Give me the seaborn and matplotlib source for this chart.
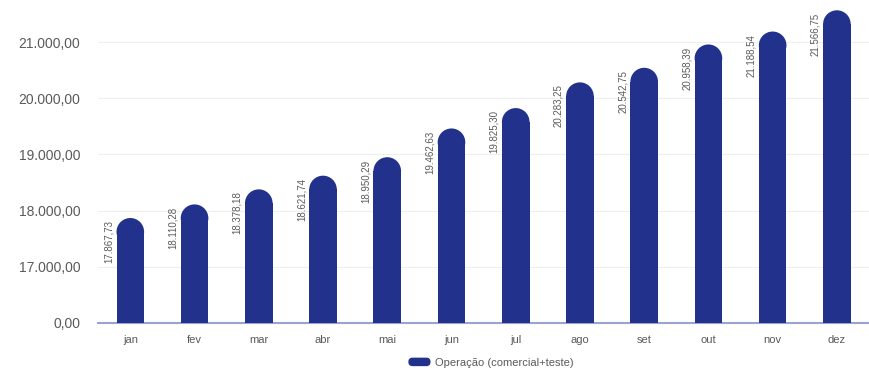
import matplotlib
matplotlib.use("Agg")
import matplotlib.pyplot as plt
from matplotlib.patches import Ellipse, Patch, FancyBboxPatch
from matplotlib.legend_handler import HandlerPatch
import seaborn as sns

# dados do gráfico
meses = ["jan", "fev", "mar", "abr", "mai", "jun", "jul", "ago", "set", "out", "nov", "dez"]
valores = [17867.73, 18110.28, 18378.18, 18621.74, 18950.29, 19462.63,
           19825.30, 20283.25, 20542.75, 20958.39, 21188.54, 21566.75]
y_ticks = [16000, 17000, 18000, 19000, 20000, 21000]
y_tick_labels = ["0,00", "17.000,00", "18.000,00", "19.000,00", "20.000,00", "21.000,00"]
serie = "Operação (comercial+teste)"

cor = "#22318c"
cinza = "#5a5a5a"

sns.set_style("white")
plt.rcParams["font.family"] = ["Liberation Sans", "DejaVu Sans"]


def fmt_br(v):
    s = f"{v:,.2f}"
    return s.replace(",", "X").replace(".", ",").replace("X", ".")


# marcador arredondado da legenda
class HandlerPilula(HandlerPatch):
    def create_artists(self, legend, orig_handle, xdescent, ydescent, width, height, fontsize, trans):
        r = height / 2
        p = FancyBboxPatch((-xdescent, -ydescent), width, height,
                           boxstyle=f"round,pad=0,rounding_size={r}",
                           mutation_aspect=1, facecolor=cor, edgecolor="none", transform=trans)
        return [p]


fig = plt.figure(figsize=(8.69, 3.72), dpi=100)
ax = fig.add_axes([0.113, 0.132, 0.887, 0.868])

sns.barplot(x=meses, y=valores, color=cor, width=0.43, saturation=1,
            linewidth=0, edgecolor="none", ax=ax, zorder=3)
ax.set_ylim(16000, 21750)
ax.set_xlim(-0.5, len(meses) - 0.5)

# raio do topo arredondado em unidades de dados
bbox = ax.get_window_extent()
px_x = bbox.width / (ax.get_xlim()[1] - ax.get_xlim()[0])
px_y = bbox.height / (ax.get_ylim()[1] - ax.get_ylim()[0])

for p, v in zip(ax.patches, valores):
    w = p.get_width()
    r = (w * px_x / 2) / px_y
    p.set_height(v - r)
    xc = p.get_x() + w / 2
    ax.add_patch(Ellipse((xc, v - r), w, 2 * r, facecolor=cor, edgecolor="none",
                         linewidth=0, zorder=3))
    ax.text(xc - w * 0.78, v - 40, fmt_br(v), rotation=90, ha="center", va="top",
            fontsize=7, color=cinza)

ax.set_yticks(y_ticks)
ax.set_yticklabels(y_tick_labels)
ax.grid(axis="y", color="#efefef", linewidth=0.8, zorder=0)
ax.tick_params(axis="y", length=0, pad=13, labelsize=10, labelcolor=cinza)
ax.tick_params(axis="x", length=0, pad=9, labelsize=8, labelcolor=cinza)
ax.set_xlabel("")
ax.set_ylabel("")
for s in ["top", "right", "left"]:
    ax.spines[s].set_visible(False)
ax.spines["bottom"].set_color("#9aa3cf")
ax.spines["bottom"].set_linewidth(1.5)

fig.legend(handles=[Patch(facecolor=cor, edgecolor="none", label=serie)],
           handler_map={Patch: HandlerPilula()},
           loc="center", bbox_to_anchor=(0.565, 0.025), frameon=False,
           fontsize=8, labelcolor=cinza, handlelength=2.0, handleheight=0.8,
           handletextpad=0.4)

fig.savefig("out.png", dpi=100)
